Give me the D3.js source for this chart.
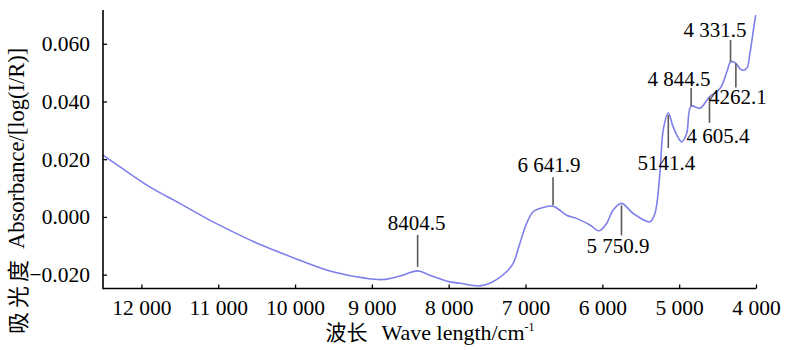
<!DOCTYPE html>
<html>
<head>
<meta charset="utf-8">
<script src="https://cdn.jsdelivr.net/npm/d3@7"></script>
<style>
  html, body { margin: 0; padding: 0; background: #fff; }
  svg { display: block; }
  .serif { font-family: "Liberation Serif", serif; }
  .cjk { font-family: "Noto Sans CJK SC", sans-serif; }
</style>
</head>
<body>
<svg id="chart" width="796" height="350"></svg>
<script>
// ---------- data ----------
const wavenumbers = [12500, 12283, 11892, 11501, 11111, 10720, 10460, 10329, 9939, 9509, 9070, 8854, 8636, 8404.5, 8246, 7985, 7855, 7595, 7465, 7247, 7161, 7074, 6987, 6901, 6813, 6641.9, 6466, 6336, 6162, 6041, 5945, 5859, 5750.9, 5598, 5381, 5316, 5251, 5208, 5141.4, 5078, 4968, 4903, 4844.5, 4729, 4605.4, 4466, 4379, 4331.5, 4296, 4262.1, 4186, 4121, 4078, 4034, 4004];
const absorbance = [0.0214, 0.0174, 0.0104, 0.0047, -0.0011, -0.0063, -0.0095, -0.0109, -0.0150, -0.0190, -0.0213, -0.0217, -0.0205, -0.0187, -0.0202, -0.0225, -0.0230, -0.0239, -0.0230, -0.0190, -0.0161, -0.0092, -0.0023, 0.0018, 0.0029, 0.0037, 0.0006, -0.0005, -0.0028, -0.0048, -0.0023, 0.0024, 0.0047, 0.0012, -0.0017, 0.0012, 0.0151, 0.0301, 0.0360, 0.0312, 0.0260, 0.0289, 0.0384, 0.0377, 0.0416, 0.0446, 0.0503, 0.0537, 0.0538, 0.0532, 0.0509, 0.0515, 0.0568, 0.0647, 0.0699];

const xTicks = [12000, 11000, 10000, 9000, 8000, 7000, 6000, 5000, 4000];
const yTicks = [-0.02, 0, 0.02, 0.04, 0.06];

const peakWavenumbers = [8404.5, 6641.9, 5750.9, 5141.4, 4844.5, 4605.4, 4331.5, 4262.1];
const peakLabels = ["8404.5", "6 641.9", "5 750.9", "5141.4", "4 844.5", "4 605.4", "4 331.5", "4262.1"];

// ---------- layout (leader geometry, px) ----------
const leaderLayout = [
  { dir: -1, gap: 4, len: 32, tdx: -1,   tgap: 5 },
  { dir: -1, gap: 1, len: 28, tdx: -4,   tgap: 5.5 },
  { dir: 1,  gap: 2, len: 30, tdx: -3.5, tgap: 18 },
  { dir: 1,  gap: 2, len: 33, tdx: -2,   tgap: 22 },
  { dir: -1, gap: 0, len: 18, tdx: -12,  tgap: 2 },
  { dir: 1,  gap: 0, len: 26, tdx: 8.5,  tgap: 20 },
  { dir: -1, gap: 0, len: 22, tdx: -15.5, tgap: 3 },
  { dir: 1,  gap: 0, len: 24, tdx: 2,    tgap: 17 }
];

// ---------- drawing ----------
const svg = d3.select("#chart");

const x = d3.scaleLinear().domain([12500, 4000]).range([103, 756]);
const y = d3.scaleLinear().domain([-0.0248, 0.0717]).range([288.5, 10]);

const points = wavenumbers.map((w, i) => ({ w, a: absorbance[i] }));

svg.append("path")
  .datum(points)
  .attr("fill", "none")
  .attr("stroke", "#7e7eec")
  .attr("stroke-width", 1.6)
  .attr("stroke-linejoin", "round")
  .attr("d", d3.line().x(d => x(d.w)).y(d => y(d.a)).curve(d3.curveCatmullRom.alpha(0.5)));

// x axis
const xAxis = d3.axisBottom(x)
  .tickValues(xTicks)
  .tickSize(-4)
  .tickPadding(11)
  .tickFormat(d => d3.format(",")(d).replace(",", " "));
const gx = svg.append("g").attr("transform", "translate(0,288.5)").call(xAxis);
gx.attr("font-family", null).attr("font-size", null);
gx.select(".domain").attr("stroke", "#000").attr("stroke-width", 1.6).attr("d", "M103,0H756");
gx.selectAll(".tick line").attr("stroke", "#000").attr("stroke-width", 1.3);
gx.selectAll(".tick text").attr("class", "serif").style("font-size", "21.5px").attr("fill", "#000").attr("dy", "0.71em");

// y axis
const yAxis = d3.axisLeft(y)
  .tickValues(yTicks)
  .tickSize(-4)
  .tickPadding(13)
  .tickFormat(d3.format(".3f"));
const gy = svg.append("g").attr("transform", "translate(103,0)").call(yAxis);
gy.attr("font-family", null).attr("font-size", null);
gy.select(".domain").attr("stroke", "#000").attr("stroke-width", 1.6).attr("d", "M0,10V289.3");
gy.selectAll(".tick line").attr("stroke", "#000").attr("stroke-width", 1.3);
gy.selectAll(".tick text").attr("class", "serif").style("font-size", "21.5px").attr("fill", "#000");

// peak leaders + labels
const absAt = w => absorbance[wavenumbers.indexOf(w)];
const ann = svg.append("g");
peakWavenumbers.forEach((w, i) => {
  const L = leaderLayout[i];
  const px = x(w);
  const cy = y(absAt(w));
  const y1 = cy + L.dir * L.gap;
  const y2 = y1 + L.dir * L.len;
  ann.append("line")
    .attr("x1", px).attr("x2", px)
    .attr("y1", y1).attr("y2", y2)
    .attr("stroke", "#5a5a5a").attr("stroke-width", 1.6);
  ann.append("text")
    .attr("class", "serif")
    .attr("x", px + L.tdx)
    .attr("y", L.dir < 0 ? y2 - L.tgap : y2 + L.tgap)
    .attr("text-anchor", "middle")
    .style("font-size", "21px")
    .attr("fill", "#000")
    .text(peakLabels[i]);
});

// x axis title
const xt = svg.append("text")
  .attr("x", 430).attr("y", 340)
  .attr("text-anchor", "middle")
  .attr("fill", "#000");
xt.append("tspan").attr("class", "cjk").style("font-size", "21px").text("波长");
xt.append("tspan").attr("class", "serif").style("font-size", "22px").attr("dx", 14).text("Wave length/cm");
xt.append("tspan").attr("class", "serif").style("font-size", "12px").attr("dy", -9).text("-1");

// y axis title (rotated: dy moves glyphs horizontally on screen)
const yt = svg.append("text")
  .attr("transform", "translate(24,334) rotate(-90)")
  .attr("text-anchor", "start")
  .attr("fill", "#000");
yt.append("tspan").attr("class", "cjk").attr("dy", 2).style("font-size", "22px").style("letter-spacing", "4px").text("吸光度");
yt.append("tspan").attr("class", "serif").attr("dy", -2).style("font-size", "22.5px").attr("dx", 7).text("Absorbance/[log(I/R)]");
</script>
</body>
</html>
